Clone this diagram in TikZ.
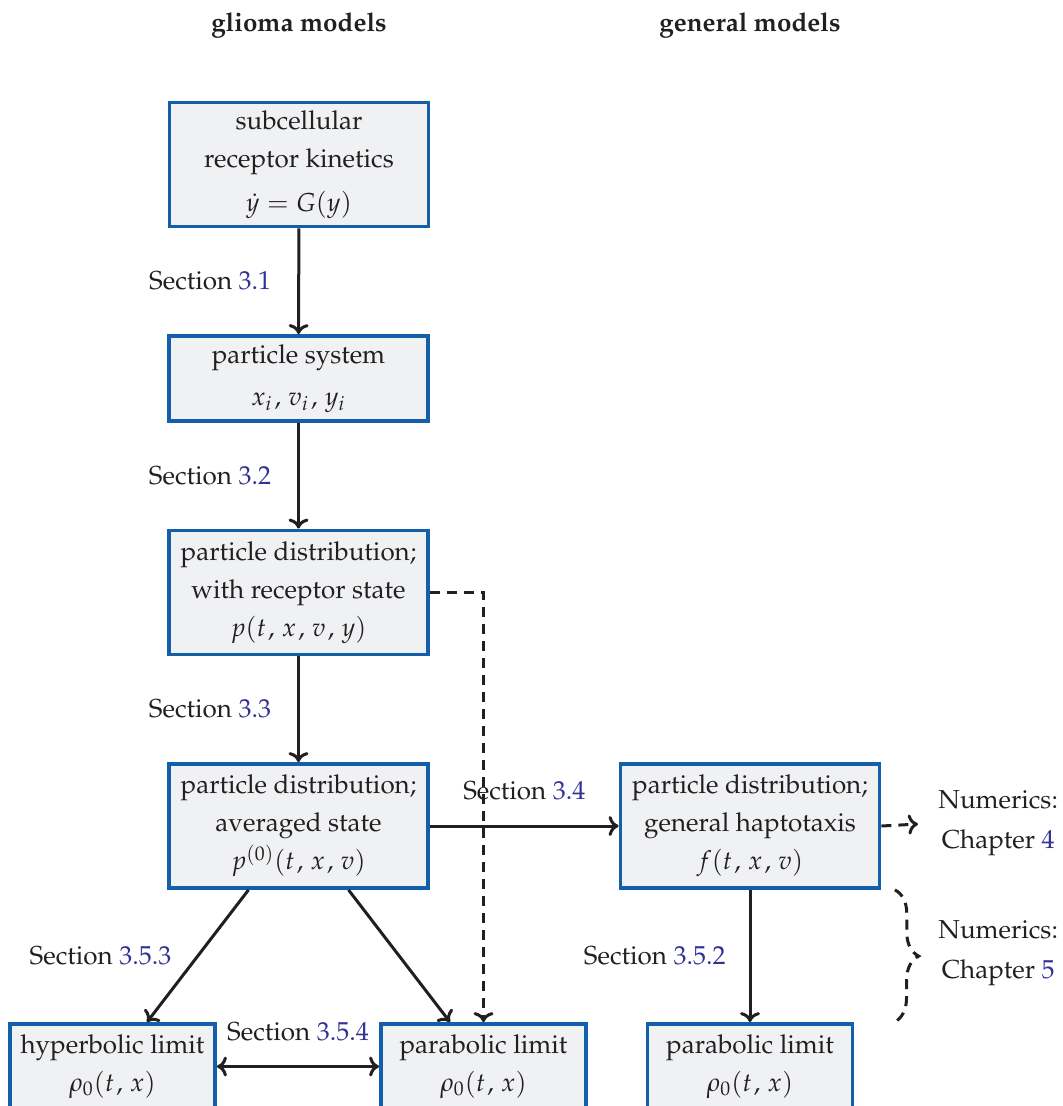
\documentclass[tikz,border=0pt]{standalone}
\usepackage[T1]{fontenc}
\usepackage{mathpazo}
\usetikzlibrary{arrows.meta,decorations.pathreplacing}
\definecolor{boxblue}{RGB}{20,95,170}
\definecolor{boxfill}{RGB}{240,241,243}
\definecolor{linkc}{RGB}{50,50,150}
\definecolor{ink}{RGB}{35,31,32}
\newcommand{\lnk}[1]{\textcolor{linkc}{#1}}
\newcommand{\cm}{\mkern1.5mu,\mkern2mu}
\begin{document}
\begin{tikzpicture}[x=0.5pt,y=-0.5pt,
  font=\fontsize{13}{19}\selectfont,
  box/.style={draw=boxblue, fill=boxfill, line width=1.9pt, align=center, inner sep=0pt, text=ink},
  bigbox/.style={box, minimum width=129.5pt, minimum height=62pt},
  smallbox/.style={box, minimum width=102.5pt, minimum height=42.5pt},
  tip/.tip={To[length=5pt,width=10pt]},
  conn/.style={draw=ink, line width=1.5pt, -tip},
  dconn/.style={conn, dash pattern=on 5pt off 3.5pt},
  lab/.style={text=ink, inner sep=0pt},
  hdr/.style={text=ink, inner sep=0pt, font=\fontsize{13}{19}\selectfont\bfseries}]
\useasboundingbox (0,0) rectangle (1062,1106);
\clip (0,0) rectangle (1062,1106);

\node[hdr] (h1) at (299,25) {glioma models};
\node[hdr] (h2) at (750,25) {general models};

\node[bigbox] (b1) at (299,164.5) {subcellular\\receptor kinetics\\[3pt]$\dot y = G(y)$};
\node[box, minimum width=129.5pt, minimum height=42.5pt] (b2) at (298.5,378.5) {particle system\\[2pt]$x_i\cm v_i\cm y_i$};
\node[bigbox] (b3) at (298.5,592.5) {particle distribution;\\with receptor state\\$p(t\cm x\cm v\cm y)$};
\node[bigbox] (b4) at (298.5,826) {particle distribution;\\averaged state\\$p^{(0)}(t\cm x\cm v)$};
\node[bigbox] (b5) at (750,826) {particle distribution;\\general haptotaxis\\$f(t\cm x\cm v)$};
\node[smallbox] (b6) at (112.5,1066.5) {hyperbolic limit\\$\rho_0(t\cm x)$};
\node[smallbox] (b7) at (483.5,1066.5) {parabolic limit\\$\rho_0(t\cm x)$};
\node[smallbox] (b8) at (750,1066.5) {parabolic limit\\$\rho_0(t\cm x)$};

\node[lab, anchor=west, align=center] (n4) at (938,823) {Numerics:\\[1pt]Chapter \lnk{4}};
\node[lab, anchor=west, align=center] (n5) at (938,953) {Numerics:\\[1pt]Chapter \lnk{5}};

\draw[conn] (b1) -- (b2) node[midway, left=13pt, lab] {Section \lnk{3.1}};
\draw[conn] (b2) -- (b3) node[midway, left=13pt, lab] {Section \lnk{3.2}};
\draw[conn] (b3) -- (b4) node[midway, left=13pt, lab] {Section \lnk{3.3}};
\draw[conn] (b4) -- (b5) node[midway, above=12pt, lab] {Section \lnk{3.4}};
\draw[dconn] (b3.east) -| (b7.north);
\draw[conn] ([xshift=-25pt]b4.south) -- ([xshift=17.25pt]b6.north) node[midway, left=12.5pt, lab] {Section \lnk{3.5.3}};
\draw[conn] ([xshift=25pt]b4.south) -- ([xshift=-16.75pt]b7.north);
\draw[conn] (b5) -- (b8) node[midway, left=11.5pt, lab] {Section \lnk{3.5.2}};
\draw[conn, tip-tip] (b6) -- (b7) node[midway, above=12pt, lab] {Section \lnk{3.5.4}};
\draw[dconn, shorten >=10pt] (b5.east) -- (n4.west);
\draw[ink, line width=1.5pt, dash pattern=on 5pt off 3.5pt, decorate, decoration={brace, amplitude=12pt}]
  ([xshift=6.75pt]b5.south east) -- ([xshift=20pt]b8.north east);
\end{tikzpicture}
\end{document}
